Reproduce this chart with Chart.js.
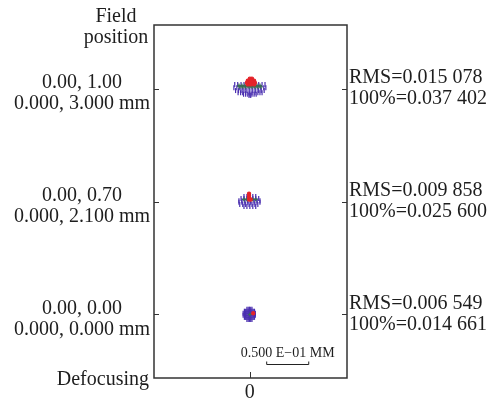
<!DOCTYPE html>
<html>
<head>
<meta charset="utf-8">
<script src="https://cdn.jsdelivr.net/npm/chart.js@4.4.1/dist/chart.umd.min.js"></script>
<style>
  html, body { margin: 0; padding: 0; background: #fff; }
  .chart__container { position: relative; width: 499px; height: 403px; }
</style>
</head>
<body>
<div class="chart__container">
  <canvas id="spot" width="499" height="403"></canvas>
</div>
<script>
// field rows, top to bottom
const fieldLabels = [
  ['0.00, 1.00', '0.000, 3.000 mm'],
  ['0.00, 0.70', '0.000, 2.100 mm'],
  ['0.00, 0.00', '0.000, 0.000 mm'],
];
const rmsLabels = [
  ['RMS=0.015 078', '100%=0.037 402'],
  ['RMS=0.009 858', '100%=0.025 600'],
  ['RMS=0.006 549', '100%=0.014 661'],
];
// row centres on the plot, micrometres (bottom row = 0)
const rowCentres = [274, 137, 0];
const xTickLabels = ['0'];
const scaleBarLabel = '0.500 E\u221201 MM';
const scaleBarUm = 50;

// ray hits, [x, y] in micrometres relative to the row centre
const spotBlue = [
  [ // 0.00, 1.00
    [-18, 5], [-14.5, 5], [-10.5, 5], [-7, 5], [-3.5, 5], [0, 5], [3.5, 5], [7, 5], [10.5, 5], [14.5, 5], [18, 5],
    [-19, 1], [-15.5, 1], [-12, 1], [-8.5, 1], [-5, 1], [-1, 1], [2.5, 1], [6, 1], [9.5, 1], [13, 1], [16.5, 1], [19, 1],
    [-17, -2.5], [-13.5, -2.5], [-10.5, -2.5], [-7, -2.5], [-3.5, -2.5], [0, -2.5], [3.5, -2.5], [7, -2.5], [10.5, -2.5], [13.5, -2.5], [17, -2.5],
    [-14, -5], [-11, -5], [-8.5, -5], [-5, -5], [-1, -5], [2.5, -5], [6, -5], [9.5, -5], [12, -5], [14.5, -5],
    [-7.5, -7], [-5, -7], [-2.5, -7], [0, -7], [2.5, -7], [5, -7], [7.5, -7],
    [-1, -8.5], [1, -8.5],
  ],
  [ // 0.00, 0.70
    [-7, 6], [-3.5, 6], [0, 6], [3.5, 6], [7, 6],
    [-10.5, 3.5], [-7, 3.5], [-3.5, 3.5], [0, 3.5], [3.5, 3.5], [7, 3.5], [10.5, 3.5],
    [-13, 1], [-9.5, 1], [-6, 1], [-2.5, 1], [1, 1], [5, 1], [8.5, 1], [12, 1],
    [-13, -1], [-9.5, -1], [-6, -1], [-2.5, -1], [1, -1], [5, -1], [8.5, -1], [12, -1],
    [-12, -3.5], [-8.5, -3.5], [-5, -3.5], [-1, -3.5], [2.5, -3.5], [6, -3.5], [9.5, -3.5],
    [-7, -6], [-3.5, -6], [0, -6], [3.5, -6], [7, -6],
  ],
  [ // 0.00, 0.00
    [-3.5, 6.5], [-2, 6.5], [-0.5, 6.5], [1, 6.5], [2.5, 6.5],
    [-6.5, 4], [-5, 4], [-3.5, 4], [-2, 4], [-0.5, 4], [1, 4], [2.5, 4], [4, 4], [5.5, 4],
    [-8, 1.5], [-6.5, 1.5], [-5, 1.5], [-3.5, 1.5], [-2, 1.5], [-0.5, 1.5], [1, 1.5], [2.5, 1.5], [4, 1.5], [5.5, 1.5], [6.5, 1.5],
    [-8, -1], [-6.5, -1], [-5, -1], [-3.5, -1], [-2, -1], [-0.5, -1], [1, -1], [2.5, -1], [4, -1], [5.5, -1], [6.5, -1],
    [-6.5, -3.5], [-5, -3.5], [-3.5, -3.5], [-2, -3.5], [-0.5, -3.5], [1, -3.5], [2.5, -3.5], [4, -3.5], [5.5, -3.5],
    [-3.5, -6], [-2, -6], [-0.5, -6], [1, -6], [2.5, -6],
  ],
];
const spotGreen = [
  [
    [-13, 3.5], [-9.5, 3.5], [-6, 3.5], [-2.5, 3.5], [1, 3.5], [5, 3.5], [8.5, 3.5], [12, 3.5],
    [-12, 2], [-8.5, 2], [-5, 2], [-1, 2], [2.5, 2], [6, 2], [9.5, 2], [13, 2],
  ],
  [
    [-7, 2.5], [-3.5, 2.5], [0, 2.5], [3.5, 2.5], [7, 2.5],
  ],
  [
    [0, 0],
  ],
];
const spotRed = [
  [
    [0, 12], [2.5, 12],
    [-2.5, 9.5], [0, 9.5], [2.5, 9.5], [5, 9.5],
    [-3.5, 7], [-1, 7], [1, 7], [3.5, 7], [6, 7],
    [-2.5, 5], [1, 5], [5, 5],
  ],
  [
    [-1, 9.5], [-1, 7], [-1, 5], [-1, 2.5], [1, 2.5],
  ],
  [
    [4, 1.5],
  ],
];

const serif = '"Liberation Serif", "Times New Roman", serif';
const ink = '#1e1e1e';

const toPoints = (spots) => spots.flatMap((pts, row) => pts.map(([x, y]) => ({ x, y: y + rowCentres[row] })));
const rowTicks = () => rowCentres.slice().sort((a, b) => a - b).map((value) => ({ value }));
const labelFor = (list) => (value) => list[rowCentres.indexOf(value)];

const framePlugin = {
  id: 'frame',
  afterDraw(chart) {
    const { ctx, chartArea: a, scales } = chart;
    ctx.save();
    ctx.strokeStyle = '#333';
    ctx.lineWidth = 1.5;
    ctx.strokeRect(a.left, a.top, a.right - a.left, a.bottom - a.top);
    ctx.lineWidth = 1;
    ctx.beginPath();
    rowCentres.forEach((v) => {
      const py = Math.round(scales.y.getPixelForValue(v)) + 0.5;
      ctx.moveTo(a.left, py); ctx.lineTo(a.left + 5, py);
      ctx.moveTo(a.right, py); ctx.lineTo(a.right - 5, py);
    });
    const px0 = Math.round(scales.x.getPixelForValue(0)) + 0.5;
    ctx.moveTo(px0, a.bottom); ctx.lineTo(px0, a.bottom - 6);
    ctx.stroke();

    // scale bar
    const bx1 = scales.x.getPixelForValue(20);
    const bx2 = scales.x.getPixelForValue(20 + scaleBarUm);
    const by = Math.round(scales.y.getPixelForValue(-60)) + 0.5;
    ctx.strokeStyle = '#222';
    ctx.beginPath();
    ctx.moveTo(bx1, by - 3); ctx.lineTo(bx1, by); ctx.lineTo(bx2, by); ctx.lineTo(bx2, by - 3);
    ctx.stroke();
    ctx.fillStyle = ink;
    ctx.font = `14px ${serif}`;
    ctx.textAlign = 'center';
    ctx.textBaseline = 'middle';
    ctx.fillText(scaleBarLabel, (bx1 + bx2) / 2, by - 11);

    // side titles
    ctx.font = `20px ${serif}`;
    ctx.fillText('Field', a.left - 38, 17);
    ctx.fillText('position', a.left - 38, 38);
    ctx.textAlign = 'right';
    ctx.fillText('Defocusing', a.left - 5, a.bottom + 2);
    ctx.restore();
  },
};

// eslint-disable-next-line no-new
new Chart(document.getElementById('spot'), {
  type: 'scatter',
  data: {
    datasets: [
      {
        label: 'red', data: toPoints(spotRed), pointStyle: 'circle', radius: 1.6,
        borderColor: '#e4242a', backgroundColor: '#e4242a',
      },
      {
        label: 'green', data: toPoints(spotGreen), pointStyle: 'cross', radius: 2,
        borderColor: '#3a6e55', backgroundColor: '#3a6e55',
      },
      {
        label: 'blue', data: toPoints(spotBlue), pointStyle: 'line', rotation: 90, radius: 2.5,
        borderColor: '#4a2fb0', backgroundColor: '#4a2fb0',
      },
    ],
  },
  options: {
    responsive: false,
    animation: false,
    layout: { padding: { top: 22, left: 0, right: 0, bottom: 0 } },
    elements: { point: { borderWidth: 1.2, hoverRadius: 2 } },
    plugins: { legend: { display: false }, tooltip: { enabled: false } },
    scales: {
      x: {
        type: 'linear',
        min: -114,
        max: 115.5,
        grid: { display: false, drawTicks: false },
        border: { display: false },
        afterBuildTicks: (s) => { s.ticks = [{ value: 0 }]; },
        afterFit: (s) => { s.height = 21; },
        ticks: {
          padding: 3,
          color: ink,
          font: { family: serif, size: 20 },
          callback: (v, i) => xTickLabels[i],
        },
      },
      y: {
        type: 'linear',
        position: 'left',
        min: -77,
        max: 351,
        grid: { display: false, drawTicks: false },
        border: { display: false },
        afterBuildTicks: (s) => { s.ticks = rowTicks(); },
        afterFit: (s) => { s.width = 154; },
        ticks: {
          padding: 4,
          labelOffset: 5,
          crossAlign: 'center',
          color: ink,
          font: { family: serif, size: 20, lineHeight: 1.05 },
          callback: labelFor(fieldLabels),
        },
      },
      y2: {
        type: 'linear',
        position: 'right',
        min: -77,
        max: 351,
        grid: { display: false, drawTicks: false },
        border: { display: false },
        afterBuildTicks: (s) => { s.ticks = rowTicks(); },
        afterFit: (s) => { s.width = 152; },
        ticks: {
          padding: 2,
          color: ink,
          font: { family: serif, size: 20, lineHeight: 1.05 },
          callback: labelFor(rmsLabels),
        },
      },
    },
  },
  plugins: [framePlugin],
});
</script>
</body>
</html>
